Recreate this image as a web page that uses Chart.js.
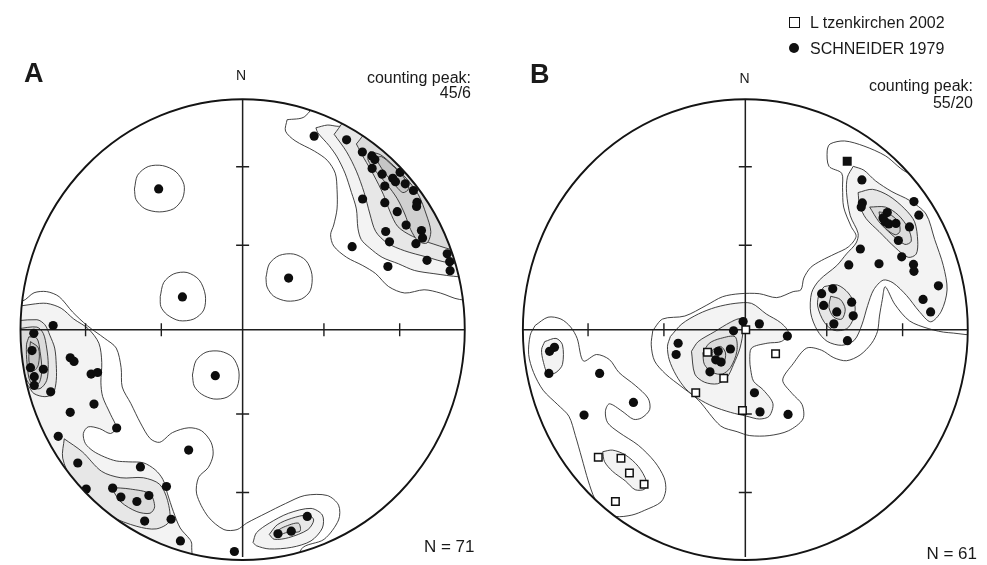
<!DOCTYPE html>
<html>
<head>
<meta charset="utf-8">
<script src="https://cdn.jsdelivr.net/npm/chart.js@4.4.1/dist/chart.umd.min.js"></script>
<style>
  html, body { margin: 0; padding: 0; background: #fff; }
  body { width: 987px; height: 565px; position: relative; overflow: hidden;
         font-family: "Liberation Sans", Arial, Helvetica, sans-serif; color: #1a1a1a; }
  canvas { position: absolute; top: 0; }
  .t { position: absolute; line-height: 1; white-space: nowrap; }
  .r { text-align: right; }
  .mk { position: absolute; box-sizing: border-box; }
</style>
</head>
<body>
<canvas id="netA" width="493" height="565" style="left:0"></canvas>
<canvas id="netB" width="494" height="565" style="left:493px"></canvas>

<div class="t" style="left:24px;top:60px;font-size:27px;font-weight:bold">A</div>
<div class="t" style="left:530px;top:61px;font-size:27px;font-weight:bold">B</div>
<div class="t" style="left:221px;width:40px;text-align:center;top:67.5px;font-size:14px">N</div>
<div class="t" style="left:724.5px;width:40px;text-align:center;top:71px;font-size:14px">N</div>
<div class="t r" style="right:516px;top:69.5px;font-size:16px">counting peak:</div>
<div class="t r" style="right:516px;top:84.5px;font-size:16px">45/6</div>
<div class="t r" style="right:14px;top:78px;font-size:16px">counting peak:</div>
<div class="t r" style="right:14px;top:94.5px;font-size:16px">55/20</div>
<div class="t r" style="right:512.5px;top:538px;font-size:17px">N = 71</div>
<div class="t r" style="right:10px;top:544.5px;font-size:17px">N = 61</div>

<div class="mk" style="left:789px;top:17px;width:11px;height:11px;border:1.5px solid #111;background:#fff"></div>
<div class="t" style="left:810px;top:15px;font-size:16px">L tzenkirchen 2002</div>
<div class="mk" style="left:789px;top:42.5px;width:10px;height:10px;border-radius:50%;background:#111"></div>
<div class="t" style="left:810px;top:40.5px;font-size:16px">SCHNEIDER 1979</div>

<script>
// stereonet coordinates: east / north, primitive circle radius = 100
const tickValues = [-70.7, -36.6, 36.6, 70.7];

// ---- panel A : poles
const aPoles = [
  [32.2,84.0],[46.8,82.4],[53.9,77.1],[58.2,75.4],[59.5,73.8],[58.3,70.0],[62.8,67.5],[70.9,68.3],[67.6,65.7],[68.8,64.2],
  [73.2,63.3],[64.0,62.3],[76.9,60.4],[54.0,56.7],[64.0,55.1],[78.5,55.3],[78.3,53.5],[69.6,51.2],[73.6,45.4],[64.4,42.6],
  [80.5,43.0],[81.0,39.8],[66.1,38.1],[78.0,37.3],[49.3,36.0],[92.1,32.9],[83.0,30.1],[93.2,29.5],[65.4,27.4],[93.4,25.6],
  [20.7,22.4],[-37.8,61.1],[-27.1,14.2],[-12.3,-20.0],
  [-85.3,1.8],[-94.0,-1.6],[-94.8,-9.1],[-95.5,-16.5],[-89.7,-17.2],[-93.8,-20.4],[-93.8,-24.2],[-86.4,-27.0],[-77.6,-12.2],
  [-75.9,-13.8],[-68.2,-19.3],[-65.3,-18.6],[-66.9,-32.3],[-77.6,-35.9],[-56.7,-42.7],[-83.0,-46.3],[-24.3,-52.3],[-74.2,-57.9],
  [-46.0,-59.6],[-34.3,-68.1],[-70.4,-69.2],[-58.5,-68.8],[-54.8,-72.7],[-42.2,-72.0],[-47.6,-74.6],[-32.2,-82.3],[-44.1,-83.1],
  [-28.0,-91.7],[-3.7,-96.3],[29.1,-81.1],[21.9,-87.5],[15.9,-88.6]
];

// ---- panel A : density contours [east, north], level 1 = lowest
const aRingNW = [[-48.7,61],[-47.3,67],[-42.5,70.8],[-36,71.2],[-30,68.5],[-26.4,63],[-27,57],[-31,52.5],[-37.5,51.1],[-44,52.5],[-48,56.5]];
const aRingW = [[-37.1,14.3],[-35.5,20.5],[-31,24.2],[-25,24.8],[-19.5,21.5],[-16.8,15],[-17.5,8.5],[-22,4.6],[-28.5,3.9],[-34,6.5],[-36.8,10]];
const aRingN = [[10.5,22.6],[12,28.5],[16.5,32.2],[23,32.8],[28.5,30],[31.2,24],[30.5,17],[26.5,13.3],[20,12.4],[14,14.5],[11,18.5]];
const aRingS = [[-22.6,-19.7],[-21,-13.5],[-16.5,-9.8],[-10,-9.4],[-4.5,-12],[-1.7,-18],[-2.5,-25],[-7,-29.3],[-13,-30.1],[-18.5,-28],[-21.8,-24.5]];
const aNE1 = [[20.0,91.1],[19.3,86.2],[23.6,82.0],[32.3,77.5],[38.1,73.5],[41.7,67.9],[42.5,60.9],[42.5,52.4],[41.0,45.4],[39.6,41.2],[41.0,36.3],[46.8,31.4],[54.1,27.8],[59.9,24.3],[65.7,18.7],[73.0,15.9],[81.7,17.3],[89.0,15.9],[97.7,13.1],[115,13],[115,70],[70,105],[40,106],[28,92.5]];
const aNE2 = [[33.0,87.6],[33.8,85.5],[38.9,79.9],[42.5,75.0],[46.1,67.9],[49.0,59.5],[51.2,52.4],[51.9,44.0],[53.4,39.1],[57.0,35.6],[62.8,31.4],[70.1,28.6],[77.3,25.7],[86.1,24.3],[97.7,22.9],[115,22],[115,70],[60,102],[44.7,88.6],[38.1,88.8]];
const aNE3 = [[41.2,84.8],[46.8,77.2],[51.2,68.8],[54.7,59.5],[57.3,50.2],[59.9,42.6],[65.1,37.6],[73.0,34.2],[82.6,31.6],[92.6,29.1],[115,28],[115,70],[70,102],[50,95]];
const aNE4 = [[51.2,80.6],[54.7,74.3],[59.0,67.1],[63.4,58.6],[66.4,51.1],[69.9,44.7],[76.5,40.5],[86.1,37.1],[97.0,34.2],[115,34],[115,70],[75,95],[58,88]];
const aNE5 = [[57.3,77.2],[56.4,73.8],[59.9,68.8],[65.1,62.9],[69.5,57.0],[73.0,50.2],[75.6,43.5],[79.1,38.4],[83.0,37.6],[84.7,42.6],[82.6,50.2],[79.1,58.6],[73.9,65.4],[67.8,71.3],[62.1,75.9]];
const aNE6 = [[59.9,74.3],[63.4,68.8],[67.8,63.7],[72.1,59.5],[74.7,61.2],[72.1,66.7],[66.9,71.7],[62.5,75.1]];
const aSW1 = [[-115,12],[-99.2,12.4],[-93.9,16.0],[-88.2,16.5],[-82.6,14.3],[-76.5,7.6],[-69.9,1.7],[-62.1,-3.8],[-56.9,-8.0],[-54.7,-16.5],[-54.2,-24.9],[-50.3,-32.1],[-46.0,-40.5],[-41.6,-47.3],[-37.3,-48.9],[-31.6,-44.7],[-24.2,-42.6],[-18.5,-43.9],[-14.2,-48.9],[-13.3,-54.4],[-15.5,-59.9],[-19.8,-64.1],[-20.7,-71.3],[-15.6,-81.1],[-8.4,-86.8],[-2.5,-86.8],[1.8,-84.0],[10.5,-79.7],[19.3,-75.5],[28.0,-72.0],[38.1,-72.0],[43.2,-76.2],[43.2,-82.6],[36.7,-91.0],[26.5,-95.2],[20,-115],[-115,-115]];
const aSW2 = [[-115,8],[-94.8,11.0],[-88.2,11.4],[-81.7,9.3],[-76.0,4.6],[-69.5,0.4],[-64.7,-5.9],[-63.4,-14.3],[-63.8,-22.8],[-63.0,-29.1],[-59.5,-36.7],[-56.9,-42.6],[-59.5,-45.1],[-64.3,-43.0],[-69.5,-42.2],[-71.7,-45.1],[-70.8,-49.4],[-67.3,-52.7],[-62.1,-55.3],[-56.9,-57.0],[-51.2,-57.4],[-44.7,-57.8],[-39.4,-60.8],[-35.9,-65.0],[-33.8,-71.3],[-31.2,-78.9],[-28.1,-86.1],[-23.7,-91.1],[-22.9,-93.2],[-25,-115],[-115,-115]];
const aSW3a = [[-110,3],[-92.6,4.3],[-89.0,2.1],[-86.8,-2.4],[-84.6,-8.0],[-83.9,-15.1],[-83.9,-22.1],[-85.3,-27.7],[-89.0,-29.1],[-94.0,-27.7],[-97.7,-23.5],[-110,-25]];
const aSW4a = [[-101,0.4],[-92.6,1.1],[-89.7,-1.7],[-88.2,-8.0],[-87.5,-15.1],[-88.2,-22.1],[-91.2,-25.6],[-94.8,-24.9],[-97.7,-20.7],[-101,-8.0]];
const aSW5a = [[-96.2,-3.1],[-92.6,-3.8],[-91.2,-9.4],[-90.4,-17.8],[-91.9,-23.5],[-95.5,-22.8],[-97.0,-15.1],[-97.3,-6.6]];
const aSW6a = [[-95.5,-5.2],[-91.9,-8.0],[-91.9,-15.1],[-94.0,-17.8],[-96.2,-13.6]];
const aSW3b = [[-80.3,-47.4],[-72.2,-53.0],[-63.5,-61.5],[-54.8,-64.3],[-44.7,-64.3],[-37.4,-67.1],[-33.8,-74.1],[-33.0,-83.2],[-38.9,-86.5],[-47.6,-85.4],[-59.2,-81.1],[-69.4,-74.1],[-76.6,-65.7],[-81.0,-55.8]];
const aSW4b = [[-59.2,-68.5],[-50.5,-69.2],[-41.7,-71.3],[-39.6,-76.9],[-41.7,-79.7],[-47.6,-79.0],[-54.8,-74.8]];
const aTiny = [[-73,-17.5],[-71,-15.8],[-70.5,-18.2]];
const aSE2 = [[4.7,-92.4],[6.2,-88.2],[12.0,-84.0],[20.7,-79.7],[30.8,-77.6],[35.9,-80.5],[35.9,-86.1],[30.8,-91.7],[22.1,-94.5],[12.0,-95.2],[6.2,-93.8]];
const aSE3 = [[12.0,-88.9],[15.6,-84.7],[22.1,-81.9],[29.4,-80.5],[32.0,-82.6],[29.4,-86.8],[20.7,-90.3],[14.2,-91.0]];
const aSE4 = [[14.2,-88.2],[18.5,-85.7],[25.1,-84.0],[25.8,-87.5],[19.3,-88.2],[15.6,-89.6]];

// ---- panel B : poles
const bSchneider = [
  [52.4,65.0],[52.6,55.0],[52.1,53.2],[75.8,55.6],[78.0,49.7],[63.8,50.8],[61.9,48.5],[62.8,46.8],[64.5,45.9],[67.7,46.1],
  [73.8,44.6],[68.8,38.7],[70.3,31.6],[51.7,35.0],[46.5,28.1],[60.1,28.6],[75.6,28.3],[75.8,25.3],[86.8,19.0],[79.9,13.1],[83.3,7.7],
  [39.3,17.7],[34.3,15.6],[35.2,10.5],[47.8,11.9],[41.1,7.7],[48.5,6.0],[39.8,2.5],[45.9,-4.8],
  [-1.0,3.5],[6.3,2.5],[-5.3,-0.5],[18.9,-2.8],[-30.2,-5.9],[-31.1,-10.8],[-12.2,-9.4],[-6.7,-8.4],[-13.3,-13.1],[-10.9,-14.1],
  [-15.9,-18.3],[4.1,-27.4],[6.6,-35.7],[19.2,-36.8],
  [-85.8,-7.7],[-88.0,-9.4],[-88.3,-19.0],[-65.5,-19.0],[-50.3,-31.6],[-72.5,-37.1]
];
const bLuetzenkirchen = [[0.2,0.0],[-17.0,-9.8],[-9.7,-21.1],[13.6,-10.5],[-22.3,-27.4],[-1.3,-35.1],[-66.1,-55.4],[-55.9,-55.8],[-52.1,-62.2],[-45.5,-67.1],[-58.4,-74.6]];
const bCoincident = [[45.8,73.1]];

// ---- panel B : density contours
const bMain1 = [[-41.6,-0.4],[-37.2,4.6],[-27.2,5.9],[-17.6,10.5],[-10.2,14.3],[-2.4,15.6],[6.3,15.6],[14.1,13.9],[21.5,16.5],[25.0,17.3],[26.3,22.4],[29.4,27.0],[34.2,30.0],[40.3,32.9],[46.3,35.9],[49.8,40.5],[47.6,44.7],[44.2,53.2],[43.7,61.6],[43.3,67.9],[37.6,70.9],[36.8,77.6],[38.1,80.6],[44.6,81.9],[53.3,79.7],[62.9,75.5],[73.8,67.9],[90,70],[115,20],[110,-1],[91.2,-1.3],[82.5,0.4],[73.8,3.8],[67.2,11.0],[62.9,18.6],[61.6,13.1],[60.3,5.9],[59.4,-0.8],[56.8,-5.9],[51.6,-11.0],[45.5,-13.5],[39.8,-12.2],[34.2,-8.9],[27.6,-8.0],[21.5,-14.8],[16.8,-21.9],[21.1,-27.8],[25.5,-32.5],[25.9,-38.8],[19.4,-43.9],[10.7,-46.0],[2.0,-46.0],[-3.7,-44.3],[-11.1,-41.8],[-21.2,-30.5],[-28.5,-24.9],[-35.8,-19.3],[-40.8,-13.6],[-42.3,-6.6]];
const bNE2 = [[48.5,70.9],[53.3,69.2],[58.5,64.6],[65.9,59.9],[73.8,56.1],[81.2,50.2],[85.1,39.2],[89.0,27.8],[90.7,17.3],[88.1,8.0],[83.3,3.4],[78.1,8.0],[72.5,14.8],[66.4,20.3],[62.0,21.5],[57.7,17.3],[55.0,10.5],[52.4,2.1],[49.0,-4.6],[43.3,-6.8],[36.8,-5.1],[32.4,-0.4],[29.4,7.2],[29.8,16.0],[33.3,21.5],[41.1,27.8],[45.5,32.9],[49.8,37.6],[50.7,41.8],[47.2,49.4],[45.5,59.5],[45.9,66.2]];
const bNE3 = [[50.7,59.5],[57.2,60.9],[64.5,58.1],[71.7,52.4],[76.1,46.8],[77.5,38.4],[76.8,32.8],[73.2,31.4],[67.4,35.6],[60.1,42.6],[54.3,48.2],[51.4,53.9]];
const bNE4 = [[55.9,53.2],[63.0,53.2],[68.8,49.7],[73.2,44.0],[74.6,38.4],[71.7,37.0],[65.9,41.2],[60.1,46.8]];
const bNE5 = [[60.1,51.1],[64.5,50.3],[68.8,46.8],[69.5,42.6],[67.4,41.2],[63.0,44.0],[60.8,47.6]];
const bMid3 = [[35.5,18.7],[41.3,19.4],[46.3,15.9],[49.3,10.3],[48.5,4.6],[45.6,0.4],[39.8,-0.3],[35.5,3.2],[32.5,10.3],[33.3,15.9]];
const bMid4 = [[38.4,14.5],[42.7,13.1],[44.9,8.9],[43.4,4.6],[39.8,5.4],[37.6,9.6]];
const bCen2 = [[-33.7,-3.0],[-28.5,2.5],[-21.1,6.8],[-13.3,9.7],[-4.6,11.4],[2.8,11.4],[9.4,6.8],[15.9,3.0],[19.4,-1.3],[16.3,-5.1],[9.8,-5.9],[2.8,-8.0],[2.0,-13.1],[2.4,-17.3],[3.7,-22.4],[8.1,-26.2],[12.4,-32.1],[10.7,-37.6],[6.3,-38.8],[0.7,-37.6],[-6.7,-35.9],[-14.6,-33.3],[-21.1,-30.0],[-26.8,-25.7],[-31.1,-19.8],[-34.2,-13.1],[-35.0,-7.2]];
const bCen3 = [[-24.2,-9.4],[-21.2,-5.2],[-14.0,-1.0],[-6.7,3.2],[-2.4,4.6],[-1.0,0.4],[-2.4,-8.0],[-5.3,-15.1],[-8.2,-20.7],[-12.5,-23.5],[-18.4,-22.8],[-22.7,-19.3]];
const bCen4 = [[-19.1,-10.1],[-16.2,-5.9],[-11.1,-3.8],[-4.6,-3.1],[-3.8,-9.4],[-6.7,-16.5],[-10.4,-19.3],[-14.7,-18.6],[-18.4,-15.1]];
const bCen5 = [[-14.7,-8.7],[-11.1,-7.3],[-8.9,-10.1],[-9.7,-14.3],[-12.5,-15.1],[-14.7,-12.2]];
const bWest1 = [[-94.5,1.8],[-88.7,5.4],[-82.9,4.6],[-78.5,1.1],[-75.6,-3.8],[-72.8,-13.6],[-66.9,-10.8],[-61.1,-13.0],[-56.8,-18.6],[-49.5,-24.2],[-43.7,-29.8],[-43.0,-34.7],[-46.6,-38.3],[-50.3,-38.9],[-55.4,-35.4],[-61.1,-32.2],[-62.9,-35.4],[-61.9,-40.4],[-56.8,-44.6],[-48.1,-50.2],[-40.8,-57.3],[-36.5,-64.3],[-35.8,-69.9],[-37.9,-74.8],[-45.2,-78.4],[-51.0,-80.5],[-58.2,-81.1],[-64.1,-78.4],[-67.7,-73.4],[-70.6,-65.7],[-73.5,-55.8],[-76.4,-46.0],[-79.3,-37.6],[-84.3,-32.6],[-90.9,-26.3],[-95.2,-18.6],[-97.4,-10.8],[-96.7,-2.4]];
const bWest2 = [[-90.2,-5.2],[-85.1,-3.8],[-82.2,-6.6],[-82.2,-15.1],[-85.1,-18.6],[-88.7,-19.3],[-90.9,-13.6],[-91.6,-8.7]];
const bSouth2 = [[-64.1,-53.0],[-59.7,-52.3],[-53.9,-54.4],[-48.1,-59.4],[-44.5,-65.7],[-45.2,-69.2],[-49.5,-69.5],[-53.9,-65.7],[-59.7,-61.5],[-63.3,-57.3]];

const contoursA = [
  [aRingNW,1],[aRingW,1],[aRingN,1],[aRingS,1],[aNE1,1],[aSW1,1],[aTiny,1],
  [aNE2,2],[aSW2,2],[aSE2,2],
  [aNE3,3],[aSW3a,3],[aSW3b,3],[aSE3,3],
  [aNE4,4],[aSW4a,4],[aSW4b,4],[aSE4,4],
  [aNE5,5],[aSW5a,5],[aNE6,6],[aSW6a,6]
];
const contoursB = [
  [bMain1,1],[bWest1,1],
  [bNE2,2],[bCen2,2],[bWest2,2],[bSouth2,2],
  [bNE3,3],[bMid3,3],[bCen3,3],
  [bNE4,4],[bMid4,4],[bCen4,4],
  [bNE5,5],[bCen5,5]
];

const levelFill = [null, 'rgba(255,255,255,0)', '#f3f3f3', '#e7e7e7', '#dbdbdb', '#d0d0d0', '#c6c6c6'];

function xy(list) { return list.map(function (p) { return {x: p[0], y: p[1]}; }); }

function contourSet(pts, level) {
  const d = xy(pts);
  d.push(d[0]);
  return {
    data: d, showLine: true, fill: level > 1 ? 'shape' : false,
    backgroundColor: levelFill[level], borderColor: '#2e2e2e', borderWidth: 0.9,
    pointRadius: 0, tension: 0.3, order: 20 - level
  };
}

function axisSets() {
  return [
    {data: [{x: -100, y: 0}, {x: 100, y: 0}], showLine: true, borderColor: '#1e1e1e', borderWidth: 1.5, pointRadius: 0, order: 3},
    {data: [{x: 0, y: -100}, {x: 0, y: 100}], showLine: true, borderColor: '#1e1e1e', borderWidth: 1.5, pointRadius: 0, order: 3},
    {data: tickValues.map(function (v) { return {x: v, y: 0}; }), pointStyle: 'line', rotation: 90,
     radius: 6.5, borderColor: '#1e1e1e', borderWidth: 1.4, order: 2},
    {data: tickValues.map(function (v) { return {x: 0, y: v}; }), pointStyle: 'line', rotation: 0,
     radius: 6.5, borderColor: '#1e1e1e', borderWidth: 1.4, order: 2}
  ];
}

// clip everything to the primitive circle, then stroke the circle
const primitive = {
  id: 'primitive',
  _geo: function (chart) {
    const x = chart.scales.x, y = chart.scales.y;
    const cx = x.getPixelForValue(0), cy = y.getPixelForValue(0);
    return {cx: cx, cy: cy, rx: x.getPixelForValue(100) - cx, ry: cy - y.getPixelForValue(100)};
  },
  beforeDatasetsDraw: function (chart) {
    const g = this._geo(chart), ctx = chart.ctx;
    ctx.save();
    ctx.beginPath();
    ctx.ellipse(g.cx, g.cy, g.rx, g.ry, 0, 0, Math.PI * 2);
    ctx.clip();
  },
  afterDatasetsDraw: function (chart) {
    const g = this._geo(chart), ctx = chart.ctx;
    ctx.restore();
    ctx.save();
    ctx.beginPath();
    ctx.ellipse(g.cx, g.cy, g.rx, g.ry, 0, 0, Math.PI * 2);
    ctx.lineWidth = 1.9;
    ctx.strokeStyle = '#141414';
    ctx.stroke();
    ctx.restore();
  }
};

function makeNet(id, xmin, xmax, datasets) {
  return new Chart(document.getElementById(id), {
    type: 'scatter',
    data: {datasets: datasets},
    options: {
      responsive: false, animation: false, devicePixelRatio: 1, events: [],
      layout: {padding: 0},
      plugins: {legend: {display: false}, tooltip: {enabled: false}, title: {display: false}},
      scales: {
        x: {type: 'linear', min: xmin, max: xmax, display: false},
        y: {type: 'linear', min: -98.74, max: 139.66, display: false}
      }
    },
    plugins: [primitive]
  });
}

const dotStyle = {pointStyle: 'circle', radius: 4.6, backgroundColor: '#0d0d0d', borderColor: '#0d0d0d', borderWidth: 0, order: 0};
const boxStyle = {pointStyle: 'rect', radius: 5.3, backgroundColor: '#ffffff', borderColor: '#111', borderWidth: 1.5, order: 0};

const setsA = contoursA.map(function (c) { return contourSet(c[0], c[1]); })
  .concat(axisSets())
  .concat([Object.assign({data: xy(aPoles)}, dotStyle)]);

const setsB = contoursB.map(function (c) { return contourSet(c[0], c[1]); })
  .concat(axisSets())
  .concat([
    Object.assign({data: xy(bSchneider)}, dotStyle),
    Object.assign({data: xy(bLuetzenkirchen)}, boxStyle),
    Object.assign({}, boxStyle, {data: xy(bCoincident), backgroundColor: '#111'})
  ]);

makeNet('netA', -105.66, 109.15, setsA);
makeNet('netB', -109.88, 105.09, setsB);
</script>
</body>
</html>
